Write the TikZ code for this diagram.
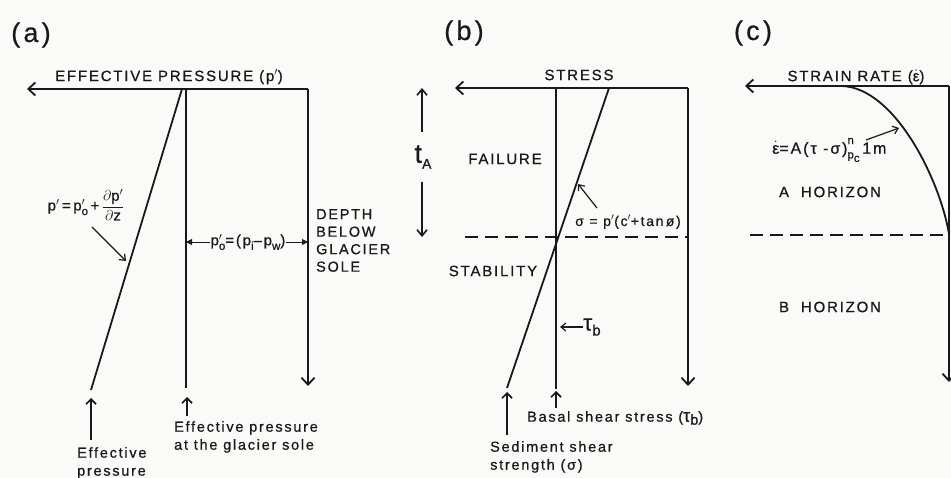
\documentclass[tikz,border=0pt]{standalone}
\usepackage{amsmath}
\usepackage{fontspec}
\setmainfont{Liberation Sans}[LetterSpace=12,FakeBold=0.7]
\usetikzlibrary{arrows.meta,positioning,calc}
\definecolor{ink}{RGB}{25,25,25}
\definecolor{paper}{RGB}{250,250,248}
\tikzset{
  axis/.style={ink,line width=1.8pt,-{Straight Barb[length=7pt,width=13pt]}},
  prof/.style={ink,line width=1.8pt},
  bound/.style={ink,line width=1.9pt,dash pattern=on 13pt off 7pt},
  ptr/.style={ink,line width=1.2pt,-{Straight Barb[length=5pt,width=8pt]}},
  upar/.style={ink,line width=1.7pt,-{Straight Barb[length=5pt,width=10pt]}},
  tarr/.style={ink,line width=1.6pt,-{Straight Barb[length=6pt,width=10pt]}},
  tri/.style={ink,line width=0.8pt,-{Triangle[length=6pt,width=6pt]}},
  lbl/.style={ink,inner sep=0pt,font=\fontsize{15}{17}\selectfont},
  note/.style={ink,inner sep=0pt,align=left,font=\fontsize{14.5}{18}\selectfont},
  frm/.style={ink,inner sep=0pt,font=\fontsize{15}{17}\selectfont},
  panel/.style={ink,inner sep=0pt,font=\fontsize{27}{27}\selectfont},
}
\newcommand{\epsdot}{$\dot{\text{ε}}$}
\newcommand{\lo}[1]{\raisebox{-0.3em}{\fontsize{11.5}{12}\selectfont #1}}
\newcommand{\hi}[1]{\raisebox{0.6em}{\fontsize{11.5}{12}\selectfont #1}}
\newcommand{\pp}{p\rlap{$'$}}

\begin{document}
\begin{tikzpicture}[x=1pt,y=-1pt]
\fill[paper] (0,0) rectangle (951,478);
\useasboundingbox (0,0) rectangle (951,478);

% (a) effective pressure
\node[panel] (la) at (31,35) {(a)};
\coordinate (aL) at (27,89);
\coordinate (aR) at (308,89);
\coordinate (aB) at (308,386);
\coordinate (aTop) at (182,89);
\coordinate (aSl) at (91,390);
\coordinate (aV) at (186,89);
\coordinate (aVb) at (186,388);
\draw[axis] (aR) -- (aL);
\draw[axis] (aR) -- (aB);
\draw[prof] (aTop) -- (aSl);
\draw[prof] (aV) -- (aVb);
\node[lbl] (xa) at (169,77) {EFFECTIVE PRESSURE (p$'$)};
\node[frm] (pform) at (86,205)
  {p$'$\,=\,\pp\lo{o}\,+\,$\dfrac{\partial\text{p}'}{\partial\text{z}}$};
\coordinate (pS) at (92,227);
\coordinate (pE) at (126,261);
\draw[ptr] (pS) -- (pE);
\node[frm] (po) at (248,242) {\pp\lo{o}=(p\lo{i}--p\lo{w})};
\draw[tri] (po.west) -- (aV |- po.west);
\draw[tri] (po.east) -- (aR |- po.east);
\node[lbl,align=left,font=\fontsize{14.5}{17.5}\selectfont,anchor=north west] (dep) at (316,209)
  {DEPTH\\BELOW\\GLACIER\\SOLE};
\node[note,anchor=north west] (ea) at (77,447) {Effective\\pressure};
\coordinate (eaT) at (91,398);
\draw[upar,shorten <=7pt] (eaT |- ea.north) -- (eaT);
\node[note,anchor=north west] (es) at (174,421) {Effective pressure\\at the glacier sole};
\coordinate (esT) at (187,397);
\draw[upar,shorten <=5pt] (esT |- es.north) -- (esT);

% (b) stress
\node[panel] (lb) at (464,33) {(b)};
\coordinate (bL) at (455,88);
\coordinate (bR) at (688,88);
\coordinate (bB) at (688,386);
\coordinate (bT) at (556,88);
\coordinate (bTb) at (556,389);
\coordinate (bS) at (609,88);
\coordinate (bSb) at (507,388);
\draw[axis] (bR) -- (bL);
\draw[axis] (bR) -- (bB);
\draw[prof] (bT) -- (bTb);
\draw[prof] (bS) -- (bSb);
\coordinate (bD) at (465,237);
\draw[bound] (bD) -- (bR |- bD);
\node[lbl] (xb) at (579,75) {STRESS};
\node[ink,inner sep=0pt] (tA) at (423,157)
  {\fontsize{27}{27}\selectfont t\raisebox{-6pt}{\fontsize{14}{14}\selectfont A}};
\coordinate (tAu) at (422,132);
\coordinate (tAd) at (422,182);
\draw[tarr] (tAu) -- (tAu |- bL);
\draw[tarr] (tAd) -- (tAd |- bD);
\node[lbl] (fail) at (505,159) {FAILURE};
\node[lbl] (stab) at (493,271) {STABILITY};
\node[frm,font=\fontsize{14}{16}\selectfont] (sform) at (628,222) {σ = p$'$(c$'$+tan\,ø)};
\coordinate (sS) at (597,208);
\coordinate (sE) at (578,184);
\draw[ptr] (sS) -- (sE);
\node[ink,inner sep=0pt,anchor=west] (tb) at (583,327)
  {\fontsize{23}{23}\selectfont τ\raisebox{-5pt}{\fontsize{15}{15}\selectfont b}};
\coordinate (tbE) at (560,327);
\draw[ptr] (tb.west) -- (tbE);
\node[note,anchor=north west] (sed) at (490,441) {Sediment shear\\strength (σ)};
\coordinate (sedT) at (507,392);
\draw[upar,shorten <=6pt] (sedT |- sed.north) -- (sedT);
\node[note,anchor=west] (bas) at (527,418)
  {Basal shear stress ({\fontsize{18}{18}\selectfont τ}\raisebox{-3pt}{b})};
\coordinate (basT) at (556,391);
\draw[upar,shorten <=3pt] (basT |- bas.north) -- (basT);

% (c) strain rate
\node[panel] (lc) at (753,33) {(c)};
\coordinate (cL) at (745,86);
\coordinate (cR) at (949,86);
\coordinate (cB) at (949,382);
\coordinate (cC) at (842,86);
\coordinate (cE) at (949,234);
\draw[axis] (cR) -- (cL);
\draw[axis] (cR) -- (cB);
\draw[prof] (cC) .. controls (895,88) and (940,180) .. (cE);
\coordinate (cD) at (750,235);
\draw[bound] (cD) -- (cR |- cD);
\node[lbl] (xc) at (856,77) {STRAIN RATE (\epsdot)};
\node[frm,anchor=west,font=\fontsize{16}{18}\selectfont] (eform) at (772,150)
  {\epsdot=A(τ -σ)\rlap{\hi{n}}\lo{p\lo{c}}\,1m};
\coordinate (eS) at (866,140);
\coordinate (eE) at (899,128);
\draw[ptr] (eS) -- (eE);
\node[lbl] (ha) at (830,192) {A\ \ HORIZON};
\node[lbl] (hb) at (830,307) {B\ \ HORIZON};
\end{tikzpicture}
\end{document}
